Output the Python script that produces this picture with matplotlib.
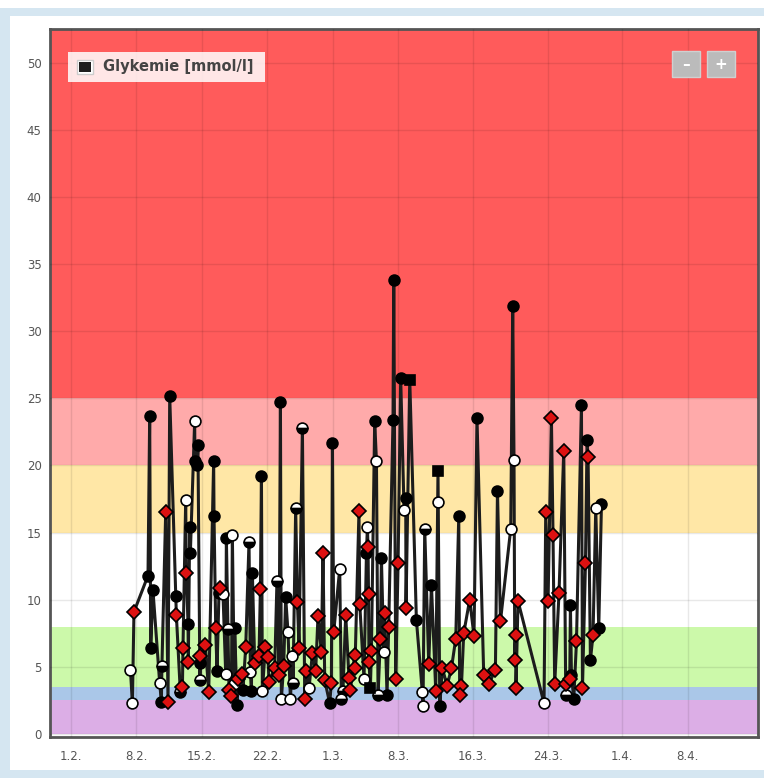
import matplotlib
matplotlib.use("Agg")
import matplotlib.pyplot as plt
from matplotlib.patches import Rectangle
import numpy as np

# days since 1.2., glucose value [mmol/l], marker kind
# kinds: b = black circle, w = white circle, h = half circle, r = red diamond, s = black square
days = [6.39, 6.60, 6.77, 8.27, 8.45, 8.56, 8.80, 9.52, 9.70, 9.76,
        10.16, 10.41, 10.59, 11.23, 11.30, 11.73, 11.95, 12.01, 12.30, 12.37,
        12.55, 12.58, 12.73, 12.80, 13.26, 13.29, 13.51, 13.61, 13.80, 13.82,
        13.87, 14.41, 14.76, 15.29, 15.33, 15.51, 15.65, 15.86, 15.94, 16.29,
        16.65, 17.29, 16.82, 17.54, 16.58, 16.93, 17.19, 17.79, 17.50, 17.89,
        18.36, 18.43, 19.07, 19.43, 18.72, 19.22, 19.33, 19.68, 20.40, 20.29,
        20.14, 20.82, 21.10, 20.50, 21.21, 22.43, 22.06, 22.99, 21.82, 22.28,
        22.78, 23.24, 23.71, 22.53, 23.50, 23.78, 24.06, 24.78, 24.25, 24.42,
        25.21, 25.03, 25.49, 25.85, 26.20, 26.45, 26.98, 27.99, 26.81, 27.17,
        27.88, 27.70, 28.13, 28.77, 29.41, 28.95, 29.12, 29.76, 29.91, 30.37,
        30.40, 30.83, 30.91, 31.37, 32.51, 32.70, 31.73, 31.80, 31.63, 31.85,
        32.16, 31.90, 32.05, 33.23, 33.58, 34.01, 33.12, 33.48, 32.87, 33.83,
        34.47, 34.55, 35.29, 36.26, 35.01, 34.76, 35.83, 35.65, 35.86, 36.97,
        39.28, 39.25, 37.86, 38.58, 37.61, 37.68, 38.29, 39.04, 39.47, 39.75,
        40.25, 40.72, 41.50, 41.18, 42.03, 42.67, 43.13, 41.79, 41.60, 43.45,
        44.17, 44.71, 45.42, 45.64, 45.96, 47.06, 47.41, 47.27, 47.59, 47.49,
        47.62, 47.84, 50.62, 50.80, 51.41, 51.58, 51.05, 52.22, 51.76, 52.73,
        53.02, 53.44, 54.09, 52.94, 53.80, 53.55, 53.37, 54.73, 54.62, 55.22,
        55.33, 55.05, 56.15, 56.76, 56.47, 55.86, 55.58]
glucose = [4.8, 2.3, 9.1, 11.8, 23.7, 6.4, 10.7, 3.8, 2.4, 5.1,
           16.5, 2.4, 25.2, 10.3, 8.9, 3.1, 3.5, 6.4, 17.4, 12.0,
           8.2, 5.4, 15.4, 13.5, 23.3, 20.3, 20.0, 21.5, 5.3, 4.0,
           5.8, 6.6, 3.1, 20.3, 16.2, 7.9, 4.7, 10.5, 10.9, 10.4,
           14.6, 14.8, 7.8, 7.9, 4.5, 3.3, 2.8, 2.2, 3.7, 4.1,
           4.5, 3.3, 14.3, 12.0, 6.5, 4.6, 3.2, 5.3, 19.2, 10.8,
           5.8, 6.5, 5.7, 3.2, 3.9, 24.7, 11.4, 10.2, 4.9, 4.4,
           5.1, 7.6, 5.8, 2.6, 2.6, 3.8, 16.8, 22.8, 9.8, 6.4,
           4.7, 2.6, 3.4, 6.0, 4.7, 8.8, 13.5, 21.7, 6.1, 4.0,
           3.8, 2.3, 7.6, 12.3, 8.9, 2.6, 3.2, 4.2, 3.3, 5.9,
           4.9, 16.6, 9.7, 4.1, 23.3, 20.3, 15.4, 13.9, 13.5, 10.4,
           6.2, 5.4, 3.4, 13.1, 9.0, 8.0, 7.1, 6.1, 2.9, 2.9,
           23.4, 33.8, 26.5, 26.4, 12.7, 4.1, 17.6, 16.7, 9.4, 8.5,
           19.6, 17.3, 15.3, 11.1, 3.1, 2.1, 5.2, 3.2, 2.1, 4.9,
           3.6, 4.9, 16.2, 7.1, 7.5, 10.0, 7.3, 3.6, 2.9, 23.5,
           4.4, 3.7, 4.8, 18.1, 8.4, 15.3, 20.4, 31.9, 7.4, 5.5,
           3.4, 9.9, 2.3, 16.5, 23.5, 14.8, 9.9, 10.5, 3.7, 21.1,
           3.7, 9.6, 6.9, 2.9, 2.6, 4.4, 4.1, 3.4, 24.5, 21.9,
           20.6, 12.7, 16.8, 17.1, 7.9, 7.4, 5.5]
kind = list("wwrbbbbwbh"
            "rrbbrhrrwr"
            "brbbwbbbbh"
            "rrrbbrbbrw"
            "bwhbwrrbwr"
            "rbhbrwbrbr"
            "rrrwrbhbrr"
            "rwwwwhhhrr"
            "rrwrrrrbrr"
            "rbrwrhhrrr"
            "rrrwbwwrbr"
            "rrsbrrrwhb"
            "bbbsrrbwrb"
            "swhbwwrrbr"
            "rrbrrrrrrb"
            "rrrbrwwbrr"
            "rrwrrrrrrr"
            "rbrhbbrrbb"
            "rrwbbrb")

# reference ranges (mmol/l) and their colours
band_edges = [0, 2.5, 3.5, 8, 15, 20, 25, 60]
band_colors = ["#dcaee6", "#aac7e8", "#ccf9aa", "#ffffff", "#ffe7a6", "#ffaaaa", "#ff5b5b"]

tick_days = [0, 7, 14, 21, 28, 35, 43, 51, 59, 66]
tick_labels = ["1.2.", "8.2.", "15.2.", "22.2.", "1.3.", "8.3.", "16.3.", "24.3.", "1.4.", "8.4."]
y_ticks = list(range(0, 55, 5))

W, H = 764, 778
fig = plt.figure(figsize=(W / 100, H / 100), dpi=100, facecolor="#d5e6f1")
# white panel inside the light blue frame
fig.patches.append(Rectangle((10 / W, 8 / H), 1 - 10 / W, 1 - 24 / H,
                             transform=fig.transFigure, fc="white", ec="none", zorder=-5))
fig.patches.append(Rectangle((0, 1 - 8 / H), 1, 8 / H,
                             transform=fig.transFigure, fc="white", ec="none", zorder=-5))

ax = fig.add_axes([50 / W, 41 / H, 708 / W, 708 / H])
ax.set_xlim(-2.21, 73.5)
ax.set_ylim(-0.22, 52.5)

for lo, hi, c in zip(band_edges[:-1], band_edges[1:], band_colors):
    ax.axhspan(lo, hi, color=c, lw=0, zorder=0)

ax.set_xticks(tick_days)
ax.set_xticklabels(tick_labels)
ax.set_yticks(y_ticks)
ax.tick_params(length=0, colors="#555555", labelsize=8.5)
ax.tick_params(axis="y", pad=6)
ax.tick_params(axis="x", pad=9)
ax.grid(True, color="black", alpha=0.09, lw=1)
ax.set_axisbelow(False)
for sp in ax.spines.values():
    sp.set_color("#555555")
    sp.set_linewidth(2)

d = np.array(days)
g = np.array(glucose)
k = np.array(kind)
order = np.argsort(d, kind="stable")
ax.plot(d[order], g[order], color="#1c1c1c", lw=2.2, zorder=3)

styles = {
    "b": dict(marker="o", ms=7.8, mfc="black", mec="black"),
    "w": dict(marker="o", ms=7.8, mfc="white", mec="black"),
    "h": dict(marker="o", ms=7.8, mfc="black", mfcalt="white", mec="black", fillstyle="bottom"),
    "r": dict(marker="D", ms=7, mfc="#dd1111", mec="black"),
    "s": dict(marker="s", ms=6.5, mfc="black", mec="black"),
}
for key, st in styles.items():
    m = k == key
    ax.plot(d[m], g[m], ls="none", mew=1.2, zorder=4, **st)

# legend box
fig.patches.append(Rectangle((68 / W, 1 - 82 / H), 197 / W, 30 / H,
                             transform=fig.transFigure, fc="white", alpha=0.85, ec="none", zorder=5))
fig.patches.append(Rectangle((77 / W, 1 - 74 / H), 16 / W, 14 / H,
                             transform=fig.transFigure, fc="white", ec="#cccccc", lw=1, zorder=6))
fig.patches.append(Rectangle((79 / W, 1 - 72 / H), 12 / W, 10 / H,
                             transform=fig.transFigure, fc="#1e1e1e", ec="none", zorder=7))
fig.text(103 / W, 1 - 67 / H, "Glykemie [mmol/l]", fontsize=10.5, fontweight="semibold",
         color="#444444", va="center", ha="left", zorder=8)

# zoom buttons
for x0, sym in [(672, "\u2013"), (707, "+")]:
    fig.patches.append(Rectangle((x0 / W, 1 - 77 / H), 28 / W, 26 / H,
                                 transform=fig.transFigure, fc="#bbbbbb", ec="#d0d0d0",
                                 lw=1, zorder=6))
    fig.text((x0 + 14) / W, 1 - 64.5 / H, sym, fontsize=11, fontweight="bold",
             color="white", ha="center", va="center", zorder=8)

fig.savefig("out.png", dpi=100, facecolor=fig.get_facecolor())
